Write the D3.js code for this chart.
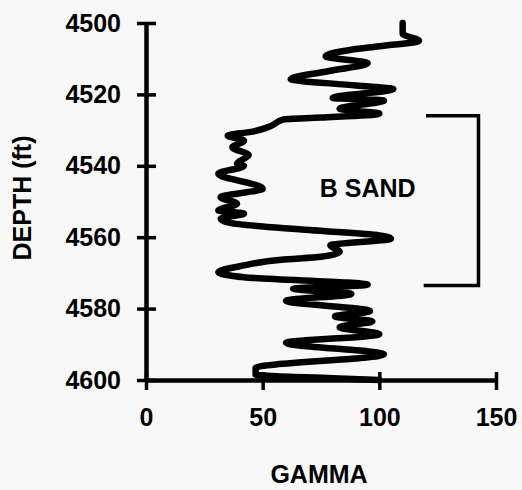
<!DOCTYPE html>
<html>
<head>
<meta charset="utf-8">
<script src="https://cdn.jsdelivr.net/npm/d3@7"></script>
<style>
  html, body { margin: 0; padding: 0; background: #f8f8f8; }
  svg { display: block; font-family: "Liberation Sans", Arial, sans-serif; }
  .axis text { font-size: 25px; font-weight: bold; fill: #000; }
  .axis path, .axis line { stroke: #000; }
</style>
</head>
<body>
<div id="chart"></div>
<script>
// gamma log, depth in ft
const depth = [4500, 4503, 4505, 4506.5, 4507.5, 4509.3, 4511.3, 4513.5, 4515.7, 4517.5,
  4518.5, 4521, 4521.7, 4524, 4525.4, 4526.5, 4527, 4529, 4530.5, 4531.5,
  4533, 4534.8, 4537, 4539.4, 4540, 4542.2, 4546.4, 4548.8, 4550.6, 4552.5,
  4553.4, 4554.8, 4556, 4558, 4559.5, 4560.4, 4562.3, 4564, 4565.5, 4566.3,
  4567.9, 4569.8, 4571.2, 4573.3, 4574.4, 4575.9, 4577.8, 4580.7, 4582.2, 4583.6,
  4585.2, 4587.2, 4589.6, 4592.8, 4596.6, 4598.5, 4599.5, 4600];
const gamma = [110, 110, 117, 100, 88, 77, 95, 78, 62, 90,
  106, 80, 102, 83, 100, 75, 59, 53, 45, 35,
  42, 37, 44, 39, 42, 31, 50, 32, 39, 31,
  42, 32, 36, 70, 100, 105, 79, 83, 75, 58,
  42, 31, 42, 95, 63, 88, 60, 96, 81, 97,
  83, 100, 60, 102, 47, 47, 80, 100];

const xTicks = [0, 50, 100, 150];
const yTicks = [4500, 4520, 4540, 4560, 4580, 4600];
const sandTop = 4526, sandBottom = 4573.5;
const sandLabel = "B SAND";

const W = 522, H = 490;
const svg = d3.select("#chart").append("svg")
  .attr("width", W).attr("height", H);

const x = d3.scaleLinear().domain([0, 150]).range([146, 496]);
const y = d3.scaleLinear().domain([4500, 4600]).range([23, 380]);

// y axis, ticks cross the line
const yAxis = svg.append("g")
  .attr("class", "axis")
  .attr("transform", "translate(" + x(0) + ",0)")
  .call(d3.axisLeft(y).tickValues(yTicks).tickSizeOuter(0).tickPadding(19).tickFormat(d3.format("d")));
yAxis.select(".domain").attr("stroke-width", 4.5);
yAxis.selectAll(".tick line").attr("x1", -9).attr("x2", 10).attr("stroke-width", 3.5);

const xAxis = svg.append("g")
  .attr("class", "axis")
  .attr("transform", "translate(0," + y(4600) + ")")
  .call(d3.axisBottom(x).tickValues(xTicks).tickSizeOuter(0).tickPadding(22));
xAxis.select(".domain").attr("stroke-width", 4.5);
xAxis.selectAll(".tick line").attr("y1", -8).attr("y2", 10).attr("stroke-width", 3.5);

// log trace
const pts = d3.zip(depth, gamma);
svg.append("path")
  .datum(pts)
  .attr("fill", "none")
  .attr("stroke", "#000")
  .attr("stroke-width", 6.5)
  .attr("stroke-linecap", "round")
  .attr("stroke-linejoin", "round")
  .attr("d", d3.line()
    .x(d => x(d[1]))
    .y(d => y(d[0]))
    .curve(d3.curveMonotoneY));

// B sand bracket
svg.append("path")
  .attr("fill", "none")
  .attr("stroke", "#000")
  .attr("stroke-width", 3.5)
  .attr("d", "M" + x(120) + "," + y(sandTop) + "H" + x(142.5) +
    "V" + y(sandBottom) + "H" + x(119));

svg.append("text")
  .attr("x", x(95)).attr("y", y(4548.8))
  .attr("text-anchor", "middle")
  .attr("font-size", 25).attr("font-weight", "bold")
  .text(sandLabel);

// axis titles
svg.append("text")
  .attr("x", (x(0) + x(150)) / 2 - 2).attr("y", 483)
  .attr("text-anchor", "middle")
  .attr("font-size", 25).attr("font-weight", "bold")
  .text("GAMMA");

svg.append("text")
  .attr("transform", "translate(31," + 198 + ") rotate(-90)")
  .attr("text-anchor", "middle")
  .attr("font-size", 25).attr("font-weight", "bold")
  .text("DEPTH (ft)");
</script>
</body>
</html>
